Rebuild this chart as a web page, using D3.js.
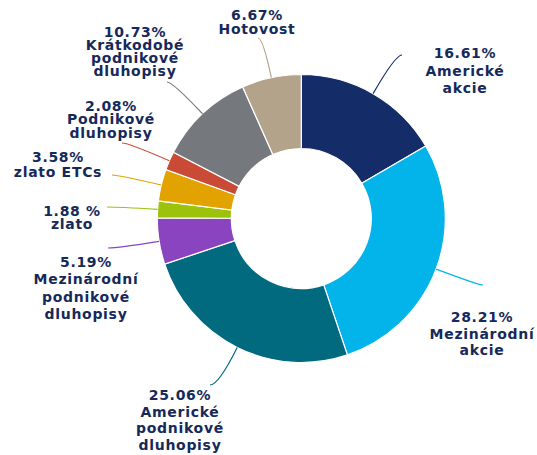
<!DOCTYPE html>
<html>
<head>
<meta charset="utf-8">
<script src="https://cdn.jsdelivr.net/npm/d3@7"></script>
<style>
  html, body { margin: 0; padding: 0; background: #fff; }
  svg { display: block; }
  .lbl { font-family: "DejaVu Sans", Verdana, sans-serif; font-weight: bold; font-size: 14px; letter-spacing: 0.7px; fill: #15295a; }
</style>
</head>
<body>
<div id="chart"></div>
<script>
// data, clockwise from 12 o'clock
const categories = ["Americké akcie", "Mezinárodní akcie", "Americké podnikové dluhopisy",
  "Mezinárodní podnikové dluhopisy", "zlato", "zlato ETCs", "Podnikové dluhopisy",
  "Krátkodobé podnikové dluhopisy", "Hotovost"];
const values = [16.61, 28.21, 25.06, 5.19, 1.88, 3.58, 2.08, 10.73, 6.67];
const pctLabels = ["16.61%", "28.21%", "25.06%", "5.19%", "1.88 %", "3.58%", "2.08%", "10.73%", "6.67%"];
const nameLines = [
  ["Americké", "akcie"],
  ["Mezinárodní", "akcie"],
  ["Americké", "podnikové", "dluhopisy"],
  ["Mezinárodní", "podnikové", "dluhopisy"],
  ["zlato"],
  ["zlato ETCs"],
  ["Podnikové", "dluhopisy"],
  ["Krátkodobé", "podnikové", "dluhopisy"],
  ["Hotovost"]
];
const colors = ["#142d68", "#02b4ea", "#016a7f", "#8b44bf", "#9cc20c", "#e2a300", "#c94b35", "#75787d", "#b2a38a"];

// label placement (text centre x, first baseline y, line height, connector end)
const labelPos = [
  {x: 465, y: 58,  lh: 17.5, ex: 402, ey: 55},
  {x: 482, y: 322, lh: 16.5, ex: 483, ey: 285},
  {x: 180, y: 400, lh: 16.7, ex: 210, ey: 385},
  {x: 86,  y: 267, lh: 17.3, ex: 108, ey: 248},
  {x: 72,  y: 216, lh: 13,   ex: 107, ey: 207},
  {x: 58,  y: 162, lh: 15,   ex: 112, ey: 175},
  {x: 111, y: 111, lh: 13.3, ex: 122, ey: 143},
  {x: 135, y: 37,  lh: 13,   ex: 167, ey: 82},
  {x: 257, y: 20,  lh: 14,   ex: 258, ey: 38}
];

const width = 537, height = 455;
const cx = 301.3, cy = 218.5, R = 144, r = 70;

const svg = d3.select("#chart")
  .append("svg")
  .attr("width", width)
  .attr("height", height);

const data = values.map((v, i) => ({name: categories[i], value: v, i: i}));

const pie = d3.pie()
  .sort(null)
  .value(d => d.value);

const arcs = pie(data);

const arc = d3.arc().innerRadius(r).outerRadius(R);
const rim = d3.arc().innerRadius(R).outerRadius(R);

const g = svg.append("g")
  .attr("transform", `translate(${cx},${cy})`);

g.selectAll("path.slice")
  .data(arcs)
  .join("path")
  .attr("class", "slice")
  .attr("d", arc)
  .attr("fill", d => colors[d.data.i])
  .attr("stroke", "#fff")
  .attr("stroke-width", 1.2);

// leader lines
svg.append("g")
  .selectAll("path")
  .data(arcs)
  .join("path")
  .attr("fill", "none")
  .attr("stroke", d => colors[d.data.i])
  .attr("stroke-width", 1.2)
  .attr("d", d => {
    const p = rim.centroid(d);
    const px = p[0] + cx, py = p[1] + cy;
    const a = (d.startAngle + d.endAngle) / 2;
    const dx = Math.sin(a), dy = -Math.cos(a);
    const lp = labelPos[d.data.i];
    const t = Math.abs(dy) > 0.05 ? (lp.ey - py) / dy : (lp.ex - px) / dx;
    const qx = px + t * dx, qy = py + t * dy;
    return `M${px},${py}Q${qx},${qy} ${lp.ex},${lp.ey}`;
  });

// labels
const lbl = svg.append("g")
  .selectAll("text")
  .data(arcs)
  .join("text")
  .attr("class", "lbl")
  .attr("text-anchor", "middle");

lbl.each(function(d) {
  const lp = labelPos[d.data.i];
  const lines = [pctLabels[d.data.i]].concat(nameLines[d.data.i]);
  d3.select(this).selectAll("tspan")
    .data(lines)
    .join("tspan")
    .attr("x", lp.x)
    .attr("y", (s, k) => lp.y + k * lp.lh)
    .text(s => s);
});
</script>
</body>
</html>
